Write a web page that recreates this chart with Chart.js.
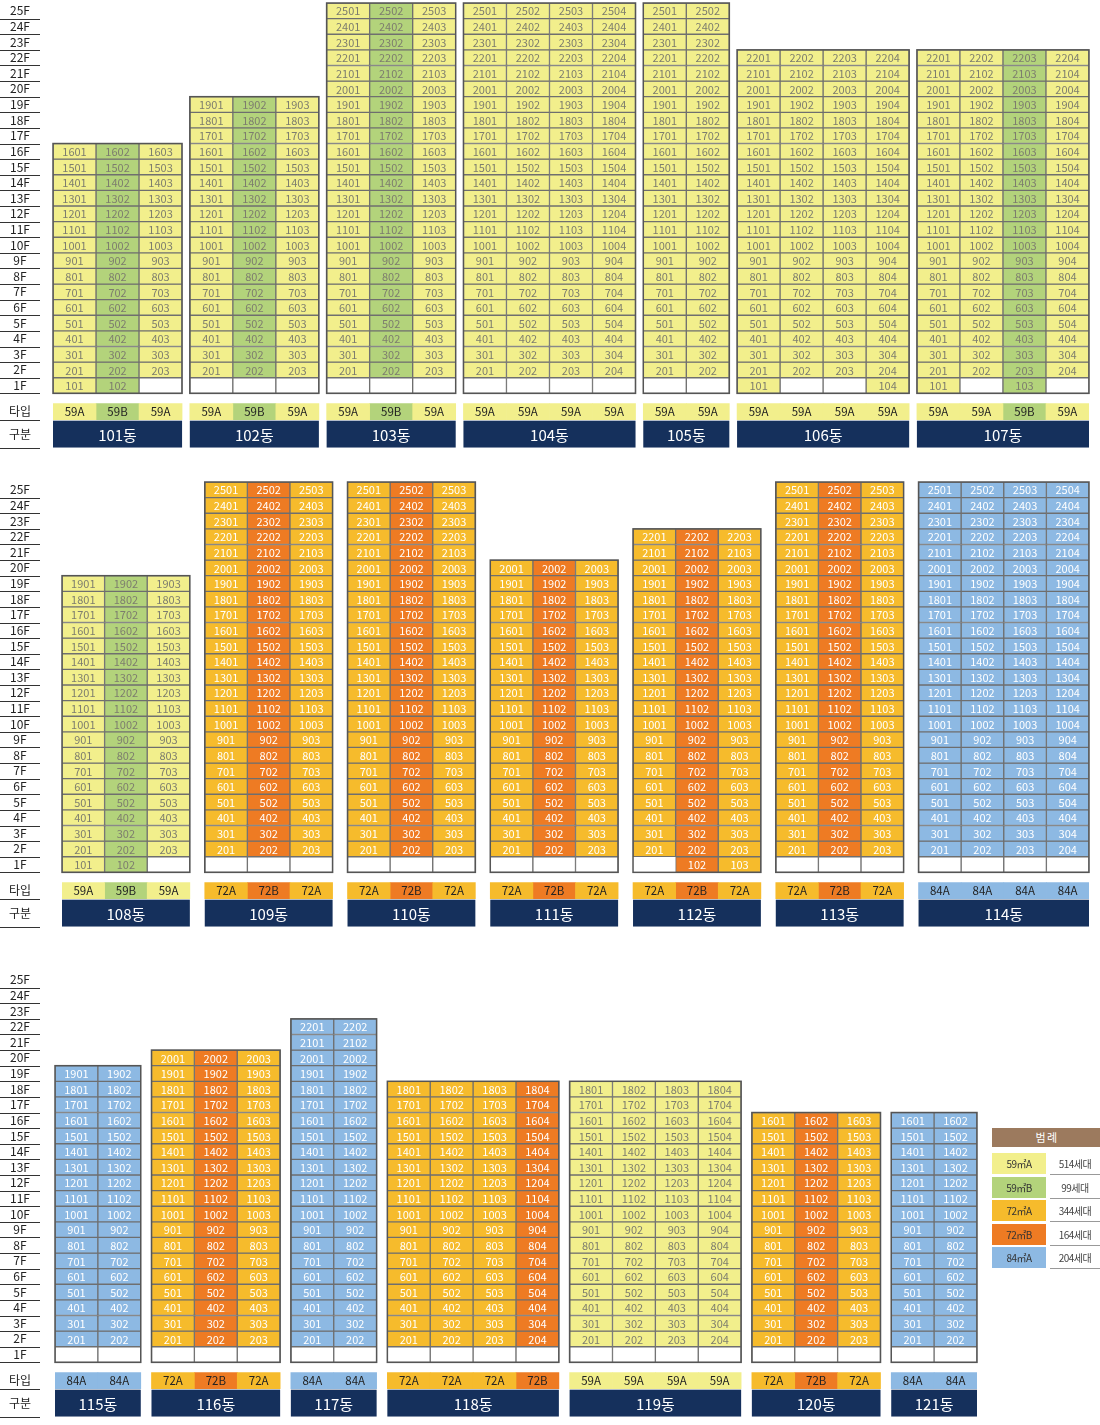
<!DOCTYPE html>
<html><head><meta charset="utf-8">
<script src="https://cdn.jsdelivr.net/npm/chart.js@4.4.0/dist/chart.umd.min.js"></script>
<style>
body{margin:0;background:#fff;width:1100px;height:1425px;position:relative;overflow:hidden;font-family:"Noto Sans CJK KR","Noto Sans",sans-serif}
canvas{position:absolute;left:0}
#legend{position:absolute;left:992px;top:1128px;width:108px;font-size:10px;letter-spacing:-0.5px}
#legend .h{background:#9c7a5e;color:#fff;text-align:center;height:19px;line-height:19px;font-size:11px;margin-bottom:6px}
#legend .r{height:21px;margin-bottom:2.6px;position:relative}
#legend .c{position:absolute;left:0;width:54px;height:21px;line-height:21px;text-align:center;color:#333}
#legend .t{position:absolute;left:58px;width:50px;height:21px;line-height:21px;text-align:center;color:#444;border-bottom:1px solid #999}
</style></head><body>
<canvas id="c1" width="1100" height="455" style="top:0"></canvas>
<canvas id="c2" width="1100" height="455" style="top:479px"></canvas>
<canvas id="c3" width="1100" height="455" style="top:969px"></canvas>
<div id="legend"><div class="h">범 례</div></div>
<script>
// ---- data ----
const ROW1_NAMES=['101동','102동','103동','104동','105동','106동','107동'];
const ROW1_FLOORS=[16,19,25,25,25,22,22];
const ROW1_TYPES=['59A 59B 59A','59A 59B 59A','59A 59B 59A','59A 59A 59A 59A','59A 59A','59A 59A 59A 59A','59A 59A 59B 59A'];
const ROW1_GROUND=['uue','eee','eee','eeee','ee','ueeu','ueue'];

const ROW2_NAMES=['108동','109동','110동','111동','112동','113동','114동'];
const ROW2_FLOORS=[19,25,25,20,22,25,25];
const ROW2_TYPES=['59A 59B 59A','72A 72B 72A','72A 72B 72A','72A 72B 72A','72A 72B 72A','72A 72B 72A','84A 84A 84A 84A'];
const ROW2_GROUND=['uue','eee','eee','eee','nuu','eee','eeee'];

const ROW3_NAMES=['115동','116동','117동','118동','119동','120동','121동'];
const ROW3_FLOORS=[19,20,22,18,18,16,16];
const ROW3_TYPES=['84A 84A','72A 72B 72A','84A 84A','72A 72A 72A 72B','59A 59A 59A 59A','72A 72B 72A','84A 84A'];
const ROW3_GROUND=['ee','eee','ee','eeee','eeee','eee','ee'];

const TYPE_KEYS=['59A','59B','72A','72B','84A'];
const LEGEND_LABELS=['59㎡A','59㎡B','72㎡A','72㎡B','84㎡A'];
const LEGEND_COUNTS=['514세대','99세대','344세대','164세대','204세대'];
const FLOOR_TICKS=['1F','2F','3F','4F','5F','6F','7F','8F','9F','10F','11F','12F','13F','14F','15F','16F','17F','18F','19F','20F','21F','22F','23F','24F','25F'];

// ---- styles ----
const COLORS={'59A':'#f2ef8c','59B':'#b3d37b','72A':'#f6bb2c','72B':'#ee7b23','84A':'#8db9e3'};
const TEXTC={'59A':'#7d7d6e','59B':'#7d7d6e','72A':'#ffffff','72B':'#ffffff','84A':'#ffffff'};
const F='"Noto Sans CJK KR","Noto Sans",sans-serif';

const lg=document.getElementById('legend');
TYPE_KEYS.forEach((k,i)=>{const r=document.createElement('div');r.className='r';
r.innerHTML=`<div class="c" style="background:${COLORS[k]}">${LEGEND_LABELS[i]}</div><div class="t">${LEGEND_COUNTS[i]}</div>`;lg.appendChild(r);});

function makeRow(id,names,floors,types,ground,left,right,gap){
  const cells={},typeRow={};TYPE_KEYS.forEach(k=>{cells[k]=[];typeRow[k]=[];});
  const empty=[];const spans=[];
  let x=0;
  names.forEach((n,bi)=>{
    const ts=types[bi].split(' ');
    ts.forEach((t,c)=>{
      const cx=x+c+0.5;
      for(let f=2;f<=floors[bi];f++) cells[t].push({x:cx,y:[f-0.5,f+0.5],label:String(f)+String(c+1).padStart(2,'0')});
      const g=ground[bi][c];
      if(g==='u') cells[t].push({x:cx,y:[0.5,1.5],label:'1'+String(c+1).padStart(2,'0')});
      else if(g==='e') empty.push({x:cx,y:[0.5,1.5],label:''});
      typeRow[t].push({x:cx,y:[-1.18,-0.15],label:t});
    });
    spans.push({x0:x,x1:x+ts.length,top:floors[bi],name:n});
    x+=ts.length+gap;
  });
  const total=x-gap;
  const ds=[];
  TYPE_KEYS.forEach(k=>{
    ds.push({data:cells[k],backgroundColor:COLORS[k],borderColor:'#6f6f6f',borderWidth:1,textColor:TEXTC[k],fs:11});
    ds.push({data:typeRow[k],backgroundColor:COLORS[k],borderWidth:0,textColor:'#222',fs:11.5});
  });
  ds.push({data:empty,backgroundColor:'#ffffff',borderColor:'#6f6f6f',borderWidth:1});
  ds.forEach(d=>{d.grouped=false;d.barPercentage=1;d.categoryPercentage=1;d.borderSkipped=false;});
  const plugin={id:'deco',
    afterDatasetsDraw(ch){
      const c=ch.ctx,xs=ch.scales.x,ys=ch.scales.y;
      c.save();
      ch.data.datasets.forEach((d,i)=>{
        const m=ch.getDatasetMeta(i);
        c.fillStyle=d.textColor||'#000';c.font=`${d.fs||11}px ${F}`;c.textAlign='center';c.textBaseline='middle';
        m.data.forEach((el,j)=>{const l=d.data[j].label;if(l)c.fillText(l,el.x,(ys.getPixelForValue(d.data[j].y[0])+ys.getPixelForValue(d.data[j].y[1]))/2+0.5);});
      });
      spans.forEach(s=>{
        const a=xs.getPixelForValue(s.x0),b=xs.getPixelForValue(s.x1);
        c.strokeStyle='#555';c.lineWidth=1.5;
        c.strokeRect(a,ys.getPixelForValue(s.top+0.5),b-a,ys.getPixelForValue(0.5)-ys.getPixelForValue(s.top+0.5));
        const t=ys.getPixelForValue(-1.25),bt=ys.getPixelForValue(-2.97);
        c.fillStyle='#15305c';c.fillRect(a,t,b-a,bt-t);
        c.fillStyle='#fff';c.font=`15px ${F}`;c.fillText(s.name,(a+b)/2,(t+bt)/2+1);
      });
      c.fillStyle='#222';c.font=`12px ${F}`;c.strokeStyle='#333';c.lineWidth=1;
      FLOOR_TICKS.forEach((lab,i)=>{const f=i+1;c.fillText(lab,20,ys.getPixelForValue(f));
        const y=Math.round(ys.getPixelForValue(f-0.5))+0.5;c.beginPath();c.moveTo(0,y);c.lineTo(40,y);c.stroke();});
      c.fillText('타입',20,ys.getPixelForValue(-0.67));
      let y=Math.round(ys.getPixelForValue(-1.22))+0.5;c.beginPath();c.moveTo(0,y);c.lineTo(40,y);c.stroke();
      c.fillText('구분',20,ys.getPixelForValue(-2.1));
      y=Math.round(ys.getPixelForValue(-3))+0.5;c.beginPath();c.moveTo(0,y);c.lineTo(40,y);c.stroke();
      c.restore();
    }};
  new Chart(document.getElementById(id),{type:'bar',data:{datasets:ds},
    options:{responsive:false,animation:false,
      layout:{padding:{left:left,right:1100-right,top:3,bottom:7}},
      plugins:{legend:{display:false},tooltip:{enabled:false}},
      scales:{x:{type:'linear',min:0,max:total,display:false,offset:false,grid:{offset:false}},
              y:{type:'linear',min:-3,max:25.5,display:false,offset:false}}},
    plugins:[plugin]});
}
makeRow('c1',ROW1_NAMES,ROW1_FLOORS,ROW1_TYPES,ROW1_GROUND,53,1089,0.18);
makeRow('c2',ROW2_NAMES,ROW2_FLOORS,ROW2_TYPES,ROW2_GROUND,62,1089,0.35);
makeRow('c3',ROW3_NAMES,ROW3_FLOORS,ROW3_TYPES,ROW3_GROUND,55,977,0.25);
</script></body></html>
